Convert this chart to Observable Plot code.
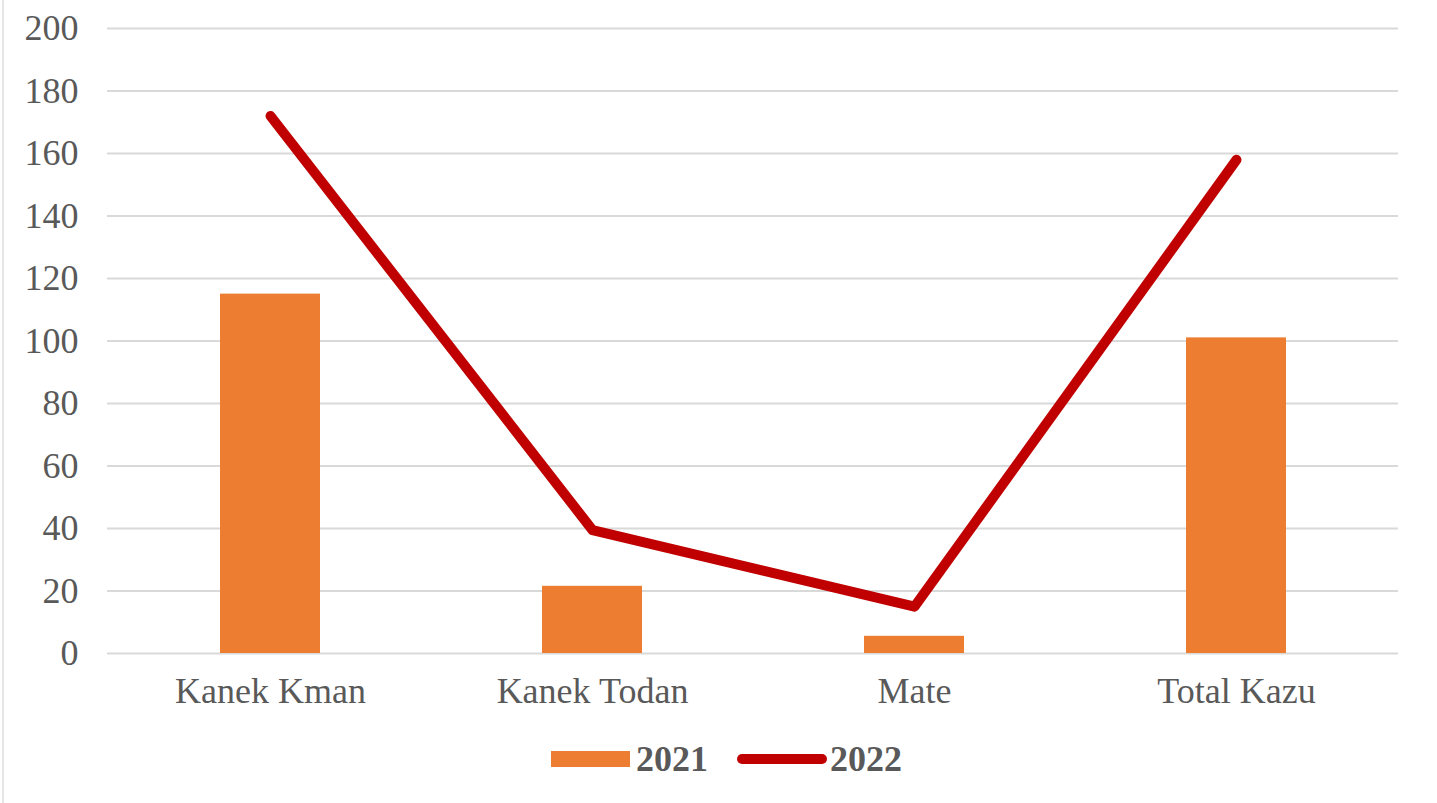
<!DOCTYPE html>
<html>
<head>
<meta charset="utf-8">
<script src="https://cdn.jsdelivr.net/npm/d3@7"></script>
<script src="https://cdn.jsdelivr.net/npm/@observablehq/plot@0.6"></script>
<style>
  html, body { margin: 0; padding: 0; background: #fff; }
  #wrap { position: relative; width: 1437px; height: 803px; overflow: hidden; font-family: "Liberation Serif", "Times New Roman", serif; }
  #border { position: absolute; left: 2px; top: 0; width: 2px; height: 803px; background: #e6e6e6; }
  #legend { position: absolute; left: 551px; top: 739px; height: 40px; display: flex; align-items: center; font-size: 36px; font-weight: bold; color: #595959; }
  .sw-bar { width: 79px; height: 16px; background: #ED7D31; margin-right: 6px; }
  .sw-line { width: 90px; height: 10px; background: #C00000; border-radius: 5px; margin-left: 29px; margin-right: 3px; }
</style>
</head>
<body>
<div id="wrap">
  <div id="border"></div>
  <div id="chart"></div>
  <div id="legend"></div>
</div>
<script>
const categories = ["Kanek Kman", "Kanek Todan", "Mate", "Total Kazu"];
const values2021 = [115, 21.5, 5.5, 101];
const values2022 = [172, 39.5, 15, 158];
const yTicks = [0, 20, 40, 60, 80, 100, 120, 140, 160, 180, 200];
const seriesNames = ["2021", "2022"];

const bars = categories.map((c, i) => ({category: c, value: values2021[i]}));
const line = categories.map((c, i) => ({category: c, value: values2022[i]}));

const chart = Plot.plot({
  width: 1437,
  height: 720,
  marginLeft: 107,
  marginRight: 39,
  marginTop: 28,
  marginBottom: 67,
  style: { fontFamily: "'Liberation Serif', 'Times New Roman', serif", fontSize: "36px", color: "#595959", background: "transparent" },
  x: { domain: categories, padding: 0, label: null },
  y: { domain: [0, 200], label: null },
  marks: [
    Plot.ruleY(yTicks, { stroke: "#d9d9d9", strokeWidth: 2 }),
    Plot.barY(bars, { x: "category", y: "value", fill: "#ED7D31", insetLeft: 111, insetRight: 111 }),
    Plot.line(line, { x: "category", y: "value", stroke: "#C00000", strokeWidth: 10, strokeLinecap: "round", strokeLinejoin: "round" }),
    Plot.axisY({ ticks: yTicks, tickSize: 0, tickPadding: 29, label: null, fill: "#595959", fontSize: 36 }),
    Plot.axisX({ tickSize: 0, tickPadding: 24, label: null, fill: "#595959", fontSize: 36 })
  ]
});
document.getElementById("chart").appendChild(chart);

const legend = document.getElementById("legend");
legend.innerHTML = `<div class="sw-bar"></div><span>${seriesNames[0]}</span><div class="sw-line"></div><span>${seriesNames[1]}</span>`;
</script>
</body>
</html>
